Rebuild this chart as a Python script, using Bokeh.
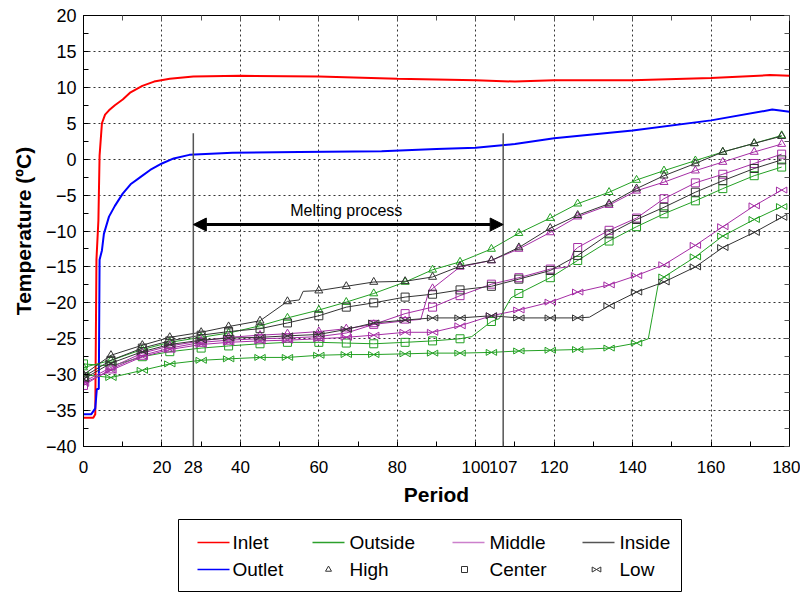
import numpy as np
from bokeh.plotting import figure
from bokeh.models import (Range1d, LinearAxis, SingleIntervalTicker, FixedTicker,
                          CustomJSTickFormatter, Arrow, NormalHead, Label, Spacer)
from bokeh.layouts import column, row
from bokeh.core.properties import value
from bokeh.embed import file_html
from bokeh.resources import INLINE

# ---------------- data ----------------
inlet_p = [0, 2.5, 3.0, 3.3, 3.8, 4.1, 4.7, 5.5, 6.5, 8, 10, 12, 15, 18, 22, 28, 40, 60, 80, 100, 110, 120, 140, 160, 175, 180]
inlet_t = [-36, -36, -35.5, -14, -8.5, 0.5, 5, 6.2, 6.8, 7.5, 8.3, 9.3, 10.2, 10.8, 11.2, 11.5, 11.6, 11.5, 11.2, 11.0, 10.8, 11.0, 11.0, 11.3, 11.7, 11.6]
outlet_p = [0, 2, 3, 3.4, 3.9, 4.1, 4.7, 5.2, 6.5, 8, 10, 12, 14.5, 17, 20, 23, 27, 38, 55, 76, 90, 100, 110, 120, 140, 160, 175.6, 180]
outlet_t = [-35.5, -35.5, -34.7, -32, -32, -14, -12.7, -10.4, -8, -6.5, -4.8, -3.5, -2.5, -1.5, -0.6, 0.1, 0.6, 0.9, 1.0, 1.1, 1.4, 1.6, 2.1, 2.9, 4.0, 5.4, 6.9, 6.6]

periods = [0, 7, 15, 22, 30, 37, 45, 52, 60, 67, 74, 82, 89, 96, 104, 111, 119, 126, 134, 141, 148, 156, 163, 171, 178]

outside_high = [-29.0, -28.0, -26.5, -25.5, -24.8, -24.2, -23.2, -22.1, -21.0, -19.9, -18.7, -17.1, -15.4, -14.3, -12.5, -10.3, -8.2, -6.2, -4.6, -2.9, -1.6, -0.2, 1.0, 2.2, 3.3]
outside_center = [-28.5, -28.8, -27.5, -26.8, -26.3, -26.0, -25.7, -25.5, -25.5, -25.6, -25.7, -25.5, -25.3, -25.0, -22.6, -18.7, -16.5, -14.1, -11.4, -9.4, -7.6, -5.8, -4.1, -2.3, -1.1]
outside_low = [-30.0, -30.4, -29.4, -28.5, -28.0, -27.8, -27.6, -27.6, -27.3, -27.2, -27.2, -27.1, -27.0, -27.0, -26.9, -26.7, -26.6, -26.5, -26.3, -25.6, -16.4, -13.6, -10.7, -8.4, -6.6]
middle_high = [-31.0, -29.0, -27.0, -26.0, -25.3, -24.8, -24.5, -24.3, -24.0, -23.6, -23.0, -22.5, -18.0, -15.0, -14.1, -12.5, -10.2, -8.0, -6.4, -4.4, -3.2, -1.6, -0.4, 1.0, 2.1]
middle_center = [-31.5, -29.2, -27.3, -26.3, -25.5, -25.2, -25.0, -24.9, -24.7, -24.2, -23.0, -21.5, -20.6, -19.0, -17.4, -16.5, -15.3, -12.3, -9.9, -8.2, -5.5, -3.3, -2.1, -0.6, 0.7]
middle_low = [-31.2, -29.4, -27.5, -26.5, -25.8, -25.5, -25.3, -25.2, -25.0, -24.8, -24.5, -24.1, -24.1, -23.2, -21.8, -21.0, -19.9, -18.5, -17.5, -16.2, -14.7, -12.0, -9.4, -6.5, -4.3]
inside_high = [-30.0, -27.3, -25.9, -24.8, -24.1, -23.3, -22.5, -19.8, -18.3, -17.7, -17.1, -17.0, -16.4, -14.9, -14.1, -12.3, -9.6, -7.8, -6.2, -4.1, -2.3, -0.6, 1.0, 2.2, 3.2]
inside_center = [-30.3, -28.0, -26.3, -25.3, -24.5, -24.0, -23.6, -22.8, -21.8, -20.6, -20.0, -19.2, -18.8, -18.2, -17.7, -16.7, -15.5, -13.4, -10.4, -8.4, -6.7, -4.6, -3.0, -1.3, -0.1]
inside_low = [-30.6, -28.4, -26.8, -25.8, -25.2, -24.9, -24.8, -24.6, -24.4, -23.7, -22.8, -22.4, -22.1, -22.1, -21.8, -22.1, -22.1, -22.1, -20.4, -18.5, -17.1, -15.0, -12.3, -10.2, -8.1]

# extra (marker-less) points where a curve jumps between two markers
outside_center_knee_p = [99, 106, 109]
outside_center_knee_t = [-24.7, -22.2, -19.3]
outside_low_knee_p = [144, 145, 146.5]
outside_low_knee_t = [-25.0, -22.0, -17.5]
middle_high_knee_p = [86, 88]
middle_high_knee_t = [-22.3, -18.5]
middle_center_knee_p = [123.5, 125]
middle_center_knee_t = [-15.0, -12.8]
inside_high_knee_p = [55, 56]
inside_high_knee_t = [-19.6, -18.4]
inside_low_knee_p = [129]
inside_low_knee_t = [-22.0]

melt_start, melt_end = 28, 107
melt_line_top = 3.6
melt_arrow_y = -9.1
melt_label_y = -7.2

x_major = [0, 20, 40, 60, 80, 100, 120, 140, 160, 180]
x_minor = [10, 30, 50, 70, 90, 110, 130, 150, 170]

# ---------------- style ----------------
FONT = "Liberation Sans"
GREEN = "#23a023"
PURPLE = "#a52da5"
BLACK = "#333333"
FW, FH = 706, 431
X0, X1, Y0, Y1 = 0, 180, -40, 20

p = figure(frame_width=FW, frame_height=FH, output_backend="svg", toolbar_location=None,
           x_range=Range1d(X0, X1), y_range=Range1d(Y0, Y1),
           min_border_left=83, min_border_right=11, min_border_top=15, min_border_bottom=72,
           background_fill_color="white", border_fill_color="white")
p.outline_line_color = "black"
p.outline_line_width = 1

xt = SingleIntervalTicker(interval=20, num_minor_ticks=2)
yt = SingleIntervalTicker(interval=5, num_minor_ticks=2)
# bottom axis: regular ticks plus the two marked periods of the melting process
p.xaxis.ticker = FixedTicker(ticks=sorted(x_major + [melt_start, melt_end]), minor_ticks=x_minor)
p.yaxis.ticker = yt
for ax in (p.xaxis[0], p.yaxis[0]):
    ax.major_tick_in = 5
    ax.major_tick_out = 0
    ax.minor_tick_in = 5
    ax.minor_tick_out = 0
    ax.axis_line_color = "black"
    ax.major_tick_line_color = "black"
    ax.minor_tick_line_color = "black"
    ax.major_label_text_font = FONT
    ax.major_label_text_font_size = "18px"
    ax.major_label_text_color = "black"
    ax.axis_label_text_font = FONT
    ax.axis_label_text_font_size = "21px"
    ax.axis_label_text_font_style = "bold"
    ax.axis_label_text_color = "black"
p.xaxis.major_label_text_font_size = "17px"
p.xaxis.axis_label = "Period"
p.xaxis.major_label_standoff = 14
p.xaxis.axis_label_standoff = 7
p.yaxis.axis_label = "Temperature (ºC)"
p.yaxis.major_label_standoff = 7
p.yaxis.axis_label_standoff = 8

for loc, tk in (("above", xt), ("right", yt)):
    ax = LinearAxis(ticker=SingleIntervalTicker(interval=tk.interval, num_minor_ticks=2),
                    formatter=CustomJSTickFormatter(code="return ''"),
                    major_tick_in=5, major_tick_out=0, minor_tick_in=5, minor_tick_out=0,
                    axis_line_color=None, major_label_standoff=0,
                    major_tick_line_color="#555555", minor_tick_line_color="#555555")
    p.add_layout(ax, loc)

for g in (p.xgrid[0], p.ygrid[0]):
    g.grid_line_color = "#333333"
    g.grid_line_dash = "2 3"
    g.grid_line_width = 1
p.xgrid.ticker = xt
p.ygrid.ticker = yt

# ---------------- series ----------------
px_per_x = FW / (X1 - X0)
TRI_SIZE_LOW = 6
# distance (px) from a triangle's centroid to its apex, for the bow-tie markers
bow_dx = (TRI_SIZE_LOW / 2) * np.sqrt(3) * 2 / 3 / px_per_x


def merged(vals, kp=(), kt=()):
    pts = sorted(list(zip(periods, vals)) + list(zip(kp, kt)))
    return [a for a, _ in pts], [b for _, b in pts]


def bowtie(fig, xs, ys, color, size, dx):
    xs = np.asarray(xs, dtype=float)
    fig.scatter(xs - dx, ys, marker="triangle", angle=-np.pi / 2, size=size,
                line_color=color, fill_color=None, line_width=1)
    fig.scatter(xs + dx, ys, marker="triangle", angle=np.pi / 2, size=size,
                line_color=color, fill_color=None, line_width=1)


series = [
    (outside_low, GREEN, "low", outside_low_knee_p, outside_low_knee_t),
    (outside_center, GREEN, "center", outside_center_knee_p, outside_center_knee_t),
    (outside_high, GREEN, "high", (), ()),
    (middle_low, PURPLE, "low", (), ()),
    (middle_center, PURPLE, "center", middle_center_knee_p, middle_center_knee_t),
    (middle_high, PURPLE, "high", middle_high_knee_p, middle_high_knee_t),
    (inside_low, BLACK, "low", inside_low_knee_p, inside_low_knee_t),
    (inside_center, BLACK, "center", (), ()),
    (inside_high, BLACK, "high", inside_high_knee_p, inside_high_knee_t),
]

p.line(inlet_p, inlet_t, line_color="#ff0000", line_width=2)
p.line(outlet_p, outlet_t, line_color="#0000ff", line_width=2)

for vals, color, kind, kp, kt in series:
    lx, ly = merged(vals, kp, kt)
    p.line(lx, ly, line_color=color, line_width=1)
    if kind == "high":
        p.scatter(periods, vals, marker="triangle", size=8, line_color=color, fill_color=None)
    elif kind == "center":
        p.scatter(periods, vals, marker="square", size=8, line_color=color, fill_color=None)
    else:
        bowtie(p, periods, vals, color, TRI_SIZE_LOW, bow_dx)

# melting period annotations
for xm in (melt_start, melt_end):
    p.add_layout(Arrow(x_start=xm, y_start=melt_line_top, x_end=xm, y_end=Y0,
                       end=None, line_color="#555555", line_width=1.5))
p.add_layout(Arrow(x_start=melt_start, y_start=melt_arrow_y, x_end=melt_end, y_end=melt_arrow_y,
                   line_width=3, line_color="black",
                   start=NormalHead(size=13, fill_color="black", line_color="black"),
                   end=NormalHead(size=13, fill_color="black", line_color="black")))
p.add_layout(Label(x=(melt_start + melt_end) / 2 - 0.5, y=melt_label_y, text="Melting process",
                   text_align="center", text_baseline="middle", text_font=FONT,
                   text_font_size="16px", text_color="black"))

# ---------------- legend (separate boxed panel) ----------------
LW, LH = 503, 72
lg = figure(frame_width=LW, frame_height=LH, output_backend="svg", toolbar_location=None,
            x_range=Range1d(0, LW), y_range=Range1d(0, LH), x_axis_location=None,
            y_axis_location=None, min_border=1)
lg.grid.visible = False
lg.outline_line_color = "black"
lg.outline_line_width = 1

row1, row2 = 49, 22
line_items = [("Inlet", "#ff0000", 19, row1), ("Outlet", "#0000ff", 19, row2),
              ("Outside", "#2ca02c", 134, row1), ("Middle", "#cc80cc", 274, row1),
              ("Inside", "#555555", 404, row1)]
text_x = {19: 54, 134: 171, 274: 311, 404: 441}
for lab, col, x0, yy in line_items:
    lg.segment(x0=[x0], y0=[yy], x1=[x0 + 32], y1=[yy], line_color=col, line_width=1.5)
    lg.text(x=[text_x[x0]], y=[yy], text=[lab], text_font=value(FONT), text_font_size="19px",
            text_baseline="middle", text_align="left", text_color="black")
LEG_MARK = "#333333"
lg.scatter([150], [row2], marker="triangle", size=6, line_color=LEG_MARK, fill_color=None)
lg.scatter([286], [row2], marker="square", size=6, line_color=LEG_MARK, fill_color=None)
bowtie(lg, [418], [row2], LEG_MARK, 5, (5 / 2) * np.sqrt(3) * 2 / 3)
for lab, xx in (("High", 171), ("Center", 311), ("Low", 441)):
    lg.text(x=[xx], y=[row2], text=[lab], text_font=value(FONT), text_font_size="19px",
            text_baseline="middle", text_align="left", text_color="black")

layout = column(p, row(Spacer(width=177), lg))
open("out.html", "w").write(file_html(layout, INLINE))
